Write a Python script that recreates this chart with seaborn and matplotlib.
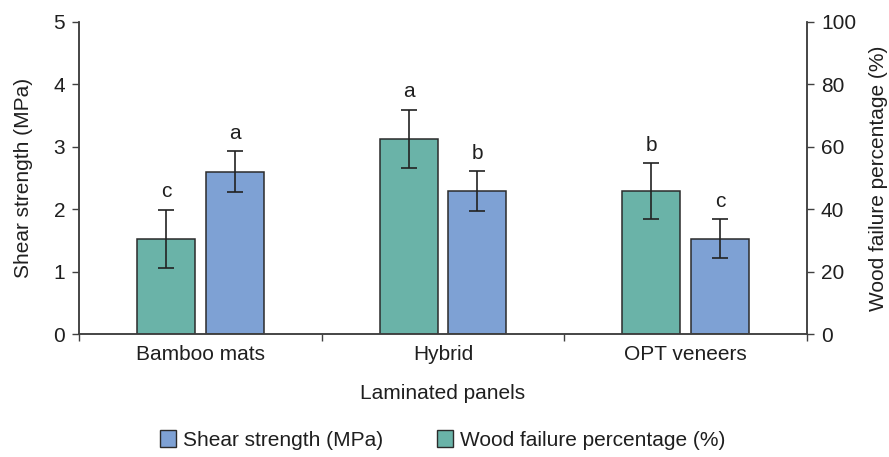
import numpy as np
import pandas as pd
import matplotlib
matplotlib.use("Agg")
import matplotlib.pyplot as plt
import seaborn as sns
from matplotlib.patches import Patch

# Mean values, standard deviations and significance groups per panel type
panels = ["Bamboo mats", "Hybrid", "OPT veneers"]
shear_mpa = [2.60, 2.29, 1.53]
shear_err = [0.33, 0.315, 0.31]
shear_groups = ["a", "b", "c"]
wood_failure_pct = [30.5, 62.5, 45.8]
wood_failure_err = [9.4, 9.3, 9.0]
wood_failure_groups = ["c", "a", "b"]

SHEAR = "Shear strength (MPa)"
WOOD = "Wood failure percentage (%)"
series_order = [WOOD, SHEAR]
colors = {WOOD: "#6ab3a8", SHEAR: "#7ea1d4"}
edge = "#2b2b2b"
text_color = "#1f1f1f"

sns.set_theme(style="ticks")
plt.rcParams["font.family"] = ["Liberation Sans", "DejaVu Sans"]
plt.rcParams["text.color"] = text_color
plt.rcParams["axes.labelcolor"] = text_color
plt.rcParams["xtick.color"] = "#404040"
plt.rcParams["ytick.color"] = "#404040"
plt.rcParams["xtick.labelcolor"] = text_color
plt.rcParams["ytick.labelcolor"] = text_color

fs = 15
fig = plt.figure(figsize=(8.89, 4.57), dpi=100)
ax = fig.add_axes([0.0889, 0.2691, 0.8189, 0.6828])
ax2 = ax.twinx()

shear_df = pd.DataFrame({"panel": panels, "value": shear_mpa, "series": SHEAR})
wood_df = pd.DataFrame({"panel": panels, "value": wood_failure_pct, "series": WOOD})

bar_kw = dict(x="panel", y="value", hue="series", hue_order=series_order,
              order=panels, palette=colors, width=0.565, gap=0.155, dodge=True,
              saturation=1, edgecolor=edge, linewidth=1.1, errorbar=None,
              legend=False)
sns.barplot(data=shear_df, ax=ax, **bar_kw)
sns.barplot(data=wood_df, ax=ax2, **bar_kw)

offset = 0.565 / 4
xs = np.arange(len(panels))
err_kw = dict(fmt="none", ecolor="#222222", elinewidth=1.2, capsize=6, capthick=1.2)
ax.errorbar(xs + offset, shear_mpa, yerr=shear_err, **err_kw)
ax2.errorbar(xs - offset, wood_failure_pct, yerr=wood_failure_err, **err_kw)

for x, y, e, g in zip(xs + offset, shear_mpa, shear_err, shear_groups):
    ax.annotate(g, (x, y + e), xytext=(0, 9), textcoords="offset points",
                ha="center", va="baseline", fontsize=fs)
for x, y, e, g in zip(xs - offset, wood_failure_pct, wood_failure_err, wood_failure_groups):
    ax2.annotate(g, (x, y + e), xytext=(0, 9), textcoords="offset points",
                 ha="center", va="baseline", fontsize=fs)

ax.set_xlim(-0.5, 2.5)
ax.set_ylim(0, 5)
ax.set_yticks(range(0, 6))
ax2.set_ylim(0, 100)
ax2.set_yticks(range(0, 101, 20))

# Ticks on the bottom axis sit between the panel groups
ax.set_xticks(xs)
ax.set_xticklabels(panels, fontsize=fs)
ax.set_xticks([-0.5, 0.5, 1.5, 2.5], minor=True)
ax.tick_params(axis="x", which="major", length=0, pad=8)
ax.tick_params(axis="x", which="minor", length=5, width=1)
ax.tick_params(axis="y", length=5, width=1, labelsize=fs, pad=5)
ax2.tick_params(axis="y", length=5, width=1, labelsize=fs, pad=5)
ax2.tick_params(axis="x", length=0)

ax.set_xlabel("Laminated panels", fontsize=fs, labelpad=14)
ax.set_ylabel(SHEAR, fontsize=fs, labelpad=15)
ax2.set_ylabel(WOOD, fontsize=fs, labelpad=9)

for a in (ax, ax2):
    a.spines["top"].set_visible(False)
    for s in ("left", "right", "bottom"):
        a.spines[s].set_color("#404040")
        a.spines[s].set_linewidth(1.1)

handles = [Patch(facecolor=colors[SHEAR], edgecolor=edge, linewidth=1.0, label=SHEAR),
           Patch(facecolor=colors[WOOD], edgecolor=edge, linewidth=1.0, label=WOOD)]
fig.legend(handles=handles, loc="center", bbox_to_anchor=(0.498, 1 - 440 / 457),
           ncol=2, frameon=False, fontsize=fs, handlelength=0.75, handleheight=0.9,
           handletextpad=0.35, columnspacing=2.6)

fig.savefig("out.png", dpi=100)
